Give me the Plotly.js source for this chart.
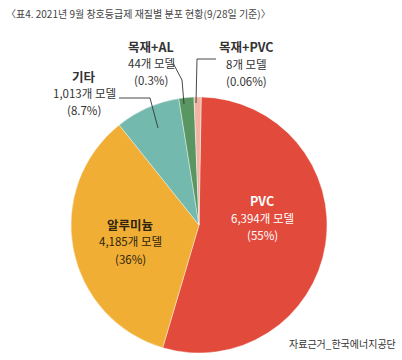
<!DOCTYPE html>
<html>
<head>
<meta charset="utf-8">
<script src="https://cdn.plot.ly/plotly-3.0.1.min.js"></script>
<style>html,body{margin:0;padding:0;background:#fff;}#chart{width:402px;height:360px;}</style>
</head>
<body>
<div id="chart"></div>
<script>
const categories = ['PVC', '알루미늄', '기타', '목재+AL', '목재+PVC'];
const modelCounts = [6394, 4185, 1013, 44, 8];
const shareLabels = ['55%', '36%', '8.7%', '0.3%', '0.06%'];
// slice sizes as drawn in the reference picture (small slices are exaggerated there)
const drawnShares = [54.3, 34.7, 8.2, 1.9, 0.9];
const sliceColors = ['#E24A3B', '#F0AE34', '#74B9AD', '#5A9661', '#F1B4A3'];
const titleText = '〈표4. 2021년 9월 창호등급제 재질별 분포 현황(9/28일 기준)〉';
const sourceText = '자료근거_한국에너지공단';

const W = 402, H = 360;
const px = x => x / W;
const py = y => 1 - y / H;
const FONT = '"Noto Sans CJK KR", "Noto Sans", sans-serif';

// label block positions (pixel centres) and text colours
const labelPos = [
  {x: 262, y: 200, gap: 17.5, color: '#ffffff'},
  {x: 130, y: 224, gap: 17.5, color: '#2e2410'},
  {x: 84, y: 76, gap: 17, color: '#333333'},
  {x: 151, y: 46, gap: 17, color: '#333333'},
  {x: 246, y: 46, gap: 17.5, color: '#333333'}
];

const annotations = [];
categories.forEach((name, i) => {
  const p = labelPos[i];
  const lines = [
    {t: '<b>' + name + '</b>', s: 12.5},
    {t: modelCounts[i].toLocaleString('en-US') + '개 모델', s: 11.5},
    {t: '(' + shareLabels[i] + ')', s: 11.5}
  ];
  lines.forEach((ln, k) => {
    annotations.push({
      xref: 'paper', yref: 'paper', x: px(p.x), y: py(p.y + k * p.gap),
      xanchor: 'center', yanchor: 'middle', showarrow: false, borderpad: 0,
      text: ln.t, font: {family: FONT, size: ln.s, color: p.color}
    });
  });
});
annotations.push({
  xref: 'paper', yref: 'paper', x: px(5), y: py(14), xanchor: 'left', yanchor: 'middle',
  showarrow: false, borderpad: 0, text: titleText, font: {family: FONT, size: 10, color: '#444'}
});
annotations.push({
  xref: 'paper', yref: 'paper', x: px(397), y: py(343), xanchor: 'right', yanchor: 'middle',
  showarrow: false, borderpad: 0, text: sourceText, font: {family: FONT, size: 10, color: '#333'}
});

function pathOf(pts) {
  return pts.map((p, i) => (i ? 'L' : 'M') + px(p[0]) + ',' + py(p[1])).join(' ');
}
const leaderStyle = {color: '#333', width: 0.9};
const shapes = [
  {type: 'path', xref: 'paper', yref: 'paper', path: pathOf([[119, 98], [150, 98], [158, 128]]), line: leaderStyle},
  {type: 'path', xref: 'paper', yref: 'paper', path: pathOf([[173, 63], [182, 80], [184, 104]]), line: leaderStyle},
  {type: 'path', xref: 'paper', yref: 'paper', path: pathOf([[216, 59], [197, 59], [196, 103]]), line: leaderStyle}
];

const cx = 199, cy = 225, r = 128;
const trace = {
  type: 'pie',
  labels: categories,
  values: drawnShares,
  sort: false,
  direction: 'clockwise',
  rotation: 1,
  textinfo: 'none',
  hoverinfo: 'label',
  marker: {colors: sliceColors, line: {color: '#ffffff', width: 0.4}},
  domain: {x: [px(cx - r), px(cx + r)], y: [py(cy + r), py(cy - r)]},
  showlegend: false
};

Plotly.newPlot('chart', [trace], {
  width: W, height: H,
  margin: {l: 0, r: 0, t: 0, b: 0},
  paper_bgcolor: '#ffffff',
  showlegend: false,
  annotations: annotations,
  shapes: shapes
}, {displayModeBar: false, staticPlot: true});
</script>
</body>
</html>
